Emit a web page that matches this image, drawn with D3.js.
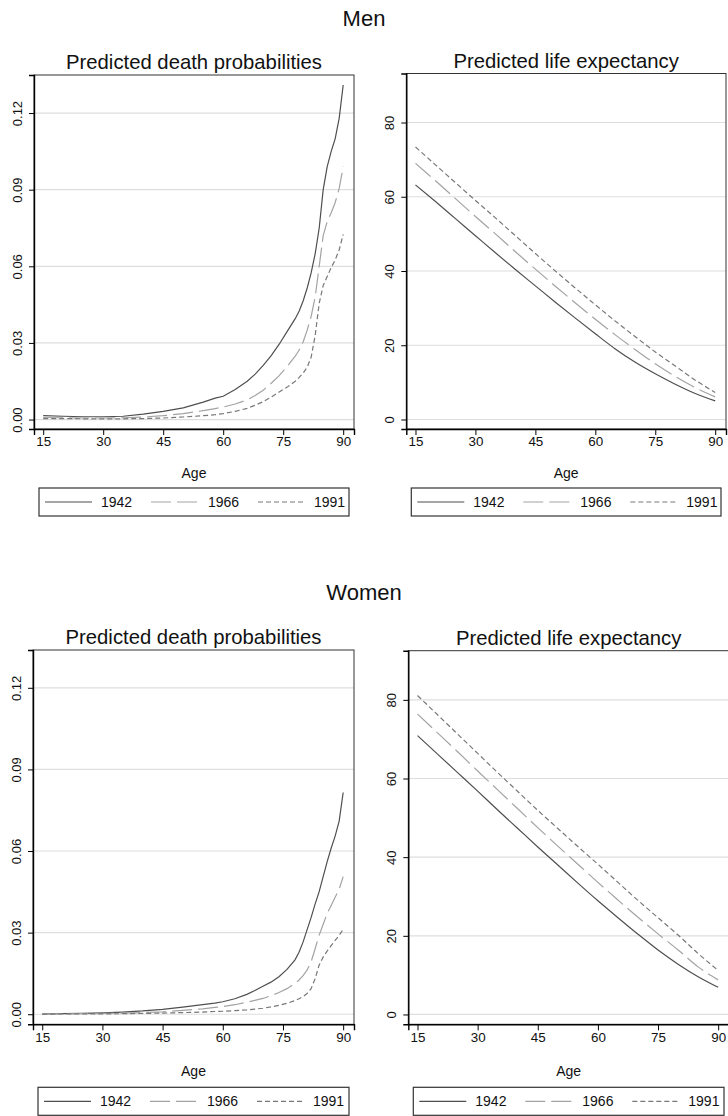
<!DOCTYPE html>
<html>
<head>
<meta charset="utf-8">
<script src="https://cdn.jsdelivr.net/npm/d3@7"></script>
<style>
  html, body { margin: 0; padding: 0; background: #fff; }
  svg { display: block; font-family: "Liberation Sans", Arial, Helvetica, sans-serif; }
</style>
</head>
<body>
<svg id="chart" width="728" height="1116"></svg>
<script>
// Cohorts shown in every panel
const cohorts = ["1942", "1966", "1991"];

// Ages at which death probabilities are given
const deathAges = [15,20,25,30,35,40,45,50,55,58,60,63,66,68,70,72,74,76,78,79,80,81,82,83,84,85,86,87,88,89,90];

// Ages at which life expectancy is given
const lifeAges = [15,20,25,30,35,40,45,50,55,60,65,70,75,80,85,90];

// Men: predicted death probabilities
const menDeath1942 = [0.0015,0.0013,0.0011,0.0011,0.0013,0.0021,0.0032,0.0046,0.0068,0.0084,0.0091,0.0118,0.0150,0.0178,0.0212,0.0250,0.0295,0.0345,0.0395,0.0425,0.0465,0.0515,0.0575,0.0650,0.0750,0.0900,0.0990,0.1050,0.1100,0.1180,0.1310];
const menDeath1966 = [0.0008,0.0007,0.0006,0.0006,0.0007,0.0010,0.0015,0.0023,0.0035,0.0043,0.0049,0.0061,0.0077,0.0094,0.0115,0.0142,0.0172,0.0208,0.0248,0.0272,0.0305,0.0350,0.0405,0.0480,0.0600,0.0720,0.0775,0.0810,0.0850,0.0905,0.0990];
const menDeath1991 = [0.0004,0.0004,0.0003,0.0003,0.0003,0.0004,0.0006,0.0010,0.0015,0.0019,0.0023,0.0032,0.0044,0.0056,0.0070,0.0088,0.0108,0.0127,0.0150,0.0165,0.0182,0.0205,0.0245,0.0330,0.0455,0.0525,0.0560,0.0595,0.0625,0.0665,0.0725];

// Men: predicted life expectancy
const menLife1942 = [63.2,58.7,54.1,49.5,44.9,40.4,36.0,31.6,27.3,23.1,19.0,15.4,12.3,9.5,7.0,5.0];
const menLife1966 = [69.0,64.3,59.5,54.7,50.0,45.2,40.5,35.9,31.4,27.0,22.8,18.8,15.0,11.6,8.6,6.1];
const menLife1991 = [73.4,68.6,63.8,59.0,54.3,49.5,44.7,40.0,35.4,30.9,26.5,22.3,18.2,14.4,10.6,7.3];

// Women: predicted death probabilities
const womenDeath1942 = [0.0001,0.0002,0.0003,0.0005,0.0008,0.0012,0.0018,0.0026,0.0035,0.0041,0.0046,0.0057,0.0073,0.0087,0.0103,0.0118,0.0138,0.0165,0.0200,0.0228,0.0265,0.0310,0.0355,0.0405,0.0450,0.0505,0.0560,0.0610,0.0655,0.0710,0.0815];
const womenDeath1966 = [0.0001,0.0001,0.0002,0.0003,0.0004,0.0006,0.0009,0.0014,0.0020,0.0025,0.0028,0.0035,0.0044,0.0051,0.0058,0.0068,0.0080,0.0094,0.0113,0.0126,0.0142,0.0162,0.0192,0.0240,0.0290,0.0330,0.0370,0.0400,0.0430,0.0460,0.0506];
const womenDeath1991 = [0.0000,0.0001,0.0001,0.0001,0.0002,0.0003,0.0004,0.0006,0.0008,0.0010,0.0011,0.0013,0.0016,0.0019,0.0022,0.0027,0.0033,0.0040,0.0050,0.0057,0.0065,0.0076,0.0094,0.0130,0.0180,0.0210,0.0232,0.0252,0.0272,0.0290,0.0312];

// Women: predicted life expectancy
const womenLife1942 = [70.9,66.2,61.5,56.8,52.0,47.3,42.6,38.0,33.4,28.9,24.6,20.4,16.4,12.8,9.6,6.9];
const womenLife1966 = [76.4,71.6,66.8,61.9,57.1,52.3,47.5,42.8,38.2,33.6,29.1,24.7,20.5,16.4,12.1,8.8];
const womenLife1991 = [81.1,76.2,71.3,66.4,61.5,56.7,51.9,47.3,42.7,38.2,33.6,29.0,24.6,20.2,15.5,11.2];

// Axis ticks
const ageTicks = [15,30,45,60,75,90];
const deathTicks = [0,0.03,0.06,0.09,0.12];
const lifeTicks = [0,20,40,60,80];

// Line style per cohort
const styles = {
  "1942": { color: "#4f4f4f", dash: null,  width: 1.2 },
  "1966": { color: "#a3a3a3", dash: "20,6", width: 1.2 },
  "1991": { color: "#787878", dash: "5,3",  width: 1.2 }
};

const svg = d3.select("#chart");
const font = "'Liberation Sans', Arial, Helvetica, sans-serif";

function drawPanel(p) {
  const g = svg.append("g");
  const x = d3.scaleLinear().domain([12.7, 92.7]).range([p.left, p.right]);
  const y = d3.scaleLinear().domain(p.yDomain).range([p.bottom, p.top]);

  // panel title
  g.append("text")
    .attr("x", (p.left + p.right) / 2).attr("y", p.top - 6)
    .attr("text-anchor", "middle").attr("font-size", 20.3).attr("fill", "#111")
    .text(p.title);

  // grid lines
  g.selectAll("line.grid").data(p.yTicks).enter().append("line")
    .attr("x1", p.left).attr("x2", p.right)
    .attr("y1", d => y(d)).attr("y2", d => y(d))
    .attr("stroke", "#dedede").attr("stroke-width", 1.2);

  // series
  const line = d3.line().x((d, i) => x(p.ages[i])).y(d => y(d));
  if (p.smooth) line.curve(d3.curveMonotoneX);
  p.series.forEach((vals, k) => {
    const s = styles[cohorts[k]];
    g.append("path").datum(vals)
      .attr("d", line)
      .attr("fill", "none")
      .attr("stroke", s.color)
      .attr("stroke-width", s.width)
      .attr("stroke-dasharray", s.dash);
  });

  // plot region outline
  g.append("rect")
    .attr("x", p.left).attr("y", p.top)
    .attr("width", p.right - p.left).attr("height", p.bottom - p.top)
    .attr("fill", "none").attr("stroke", "#333").attr("stroke-width", 1);

  // y axis
  const yAxis = d3.axisLeft(y).tickValues(p.yTicks).tickSize(5).tickFormat(p.yFormat);
  const ya = g.append("g").attr("transform", `translate(${p.left},0)`).call(yAxis);
  ya.select(".domain").attr("stroke", "#000").attr("stroke-width", 1.4);
  ya.selectAll(".tick line").attr("stroke", "#000");
  ya.selectAll(".tick text")
    .attr("font-size", 13).attr("font-family", font).attr("fill", "#111")
    .attr("x", null).attr("dy", null)
    .attr("text-anchor", "middle")
    .attr("transform", "translate(-12,0) rotate(-90)");

  // x axis
  const xAxis = d3.axisBottom(x).tickValues(ageTicks).tickSize(6).tickFormat(d3.format("d"));
  const xa = g.append("g").attr("transform", `translate(0,${p.bottom})`).call(xAxis);
  xa.select(".domain").attr("stroke", "#000").attr("stroke-width", 1.4);
  xa.selectAll(".tick line").attr("stroke", "#000");
  xa.selectAll(".tick text")
    .attr("font-size", 13.4).attr("font-family", font).attr("fill", "#111")
    .attr("y", p.tickLabelY).attr("dy", null);

  // x axis title
  g.append("text")
    .attr("x", (p.left + p.right) / 2).attr("y", p.bottom + p.ageY)
    .attr("text-anchor", "middle").attr("font-size", 14).attr("fill", "#111")
    .text("Age");

  // legend
  const bx = p.left + 5, by = p.bottom + p.legendY, bw = p.right - p.left - 10, bh = 28;
  const lg = g.append("g");
  lg.append("rect").attr("x", bx).attr("y", by).attr("width", bw).attr("height", bh)
    .attr("fill", "#fff").attr("stroke", "#333").attr("stroke-width", 1.2);
  const slots = [[6, 53, 62], [112, 160, 169], [219, 266, 275]];
  cohorts.forEach((c, k) => {
    const s = styles[c];
    const cy = by + bh / 2;
    lg.append("line")
      .attr("x1", bx + slots[k][0]).attr("x2", bx + slots[k][1])
      .attr("y1", cy).attr("y2", cy)
      .attr("stroke", s.color).attr("stroke-width", s.width)
      .attr("stroke-dasharray", s.dash);
    lg.append("text")
      .attr("x", bx + slots[k][2]).attr("y", cy + 5)
      .attr("font-size", 14).attr("fill", "#111")
      .text(c);
  });
}

// section titles
svg.append("text").attr("x", 364).attr("y", 26).attr("text-anchor", "middle")
  .attr("font-size", 22).attr("fill", "#111").text("Men");
svg.append("text").attr("x", 364).attr("y", 600).attr("text-anchor", "middle")
  .attr("font-size", 22).attr("fill", "#111").text("Women");

const deathFormat = d3.format(".2f");
const lifeFormat = d3.format("d");

// Men
drawPanel({
  title: "Predicted death probabilities",
  left: 34, right: 354, top: 75, bottom: 429,
  yDomain: [-0.0037, 0.1349], yTicks: deathTicks, yFormat: deathFormat,
  ages: deathAges, series: [menDeath1942, menDeath1966, menDeath1991],
  tickLabelY: 17, ageY: 49, legendY: 59
});
drawPanel({
  title: "Predicted life expectancy",
  left: 406.3, right: 726, top: 73.5, bottom: 429,
  yDomain: [-2.56, 93.2], yTicks: lifeTicks, yFormat: lifeFormat,
  ages: lifeAges, series: [menLife1942, menLife1966, menLife1991], smooth: true,
  tickLabelY: 17, ageY: 49, legendY: 59
});

// Women
drawPanel({
  title: "Predicted death probabilities",
  left: 33, right: 354, top: 650, bottom: 1024.3,
  yDomain: [-0.0037, 0.1339], yTicks: deathTicks, yFormat: deathFormat,
  ages: deathAges, series: [womenDeath1942, womenDeath1966, womenDeath1991],
  tickLabelY: 18, ageY: 52, legendY: 63
});
drawPanel({
  title: "Predicted life expectancy",
  left: 408.3, right: 729, top: 650.7, bottom: 1024.3,
  yDomain: [-2.5, 92.5], yTicks: lifeTicks, yFormat: lifeFormat,
  ages: lifeAges, series: [womenLife1942, womenLife1966, womenLife1991], smooth: true,
  tickLabelY: 18, ageY: 52, legendY: 63
});
</script>
</body>
</html>
